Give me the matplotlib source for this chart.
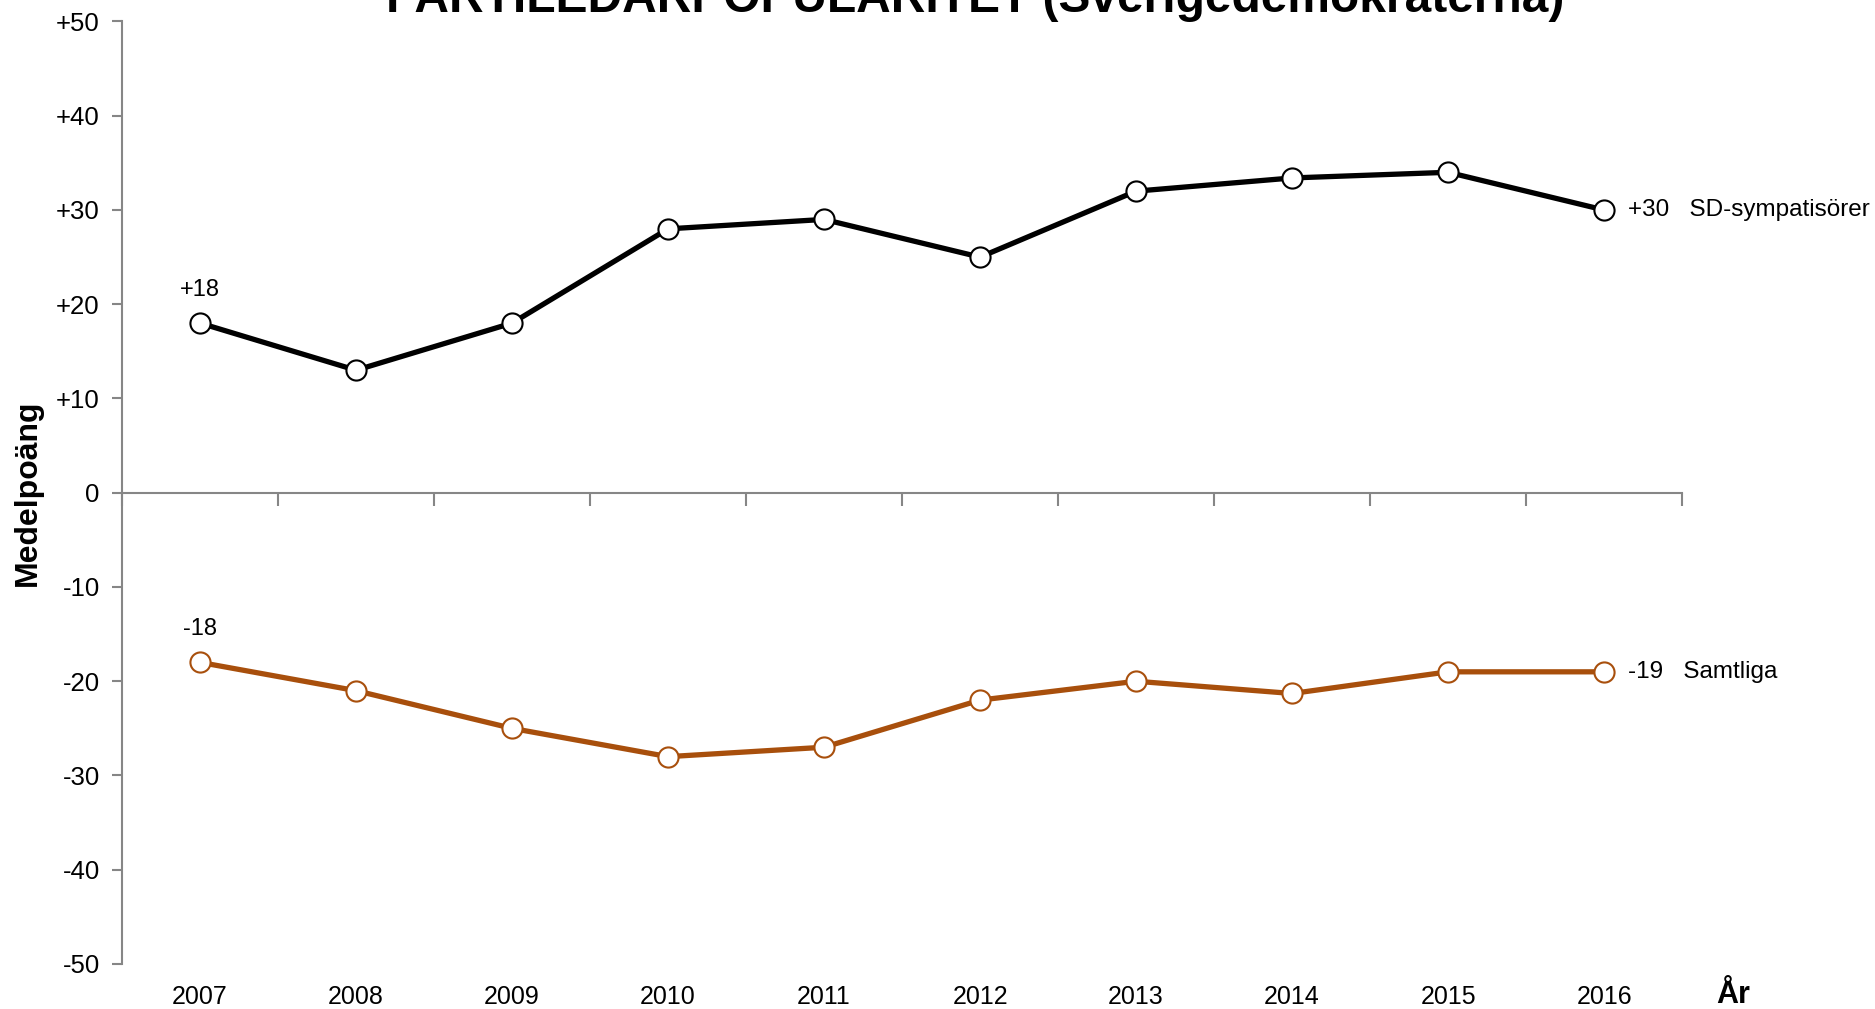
import matplotlib.pyplot as plt
import matplotlib.transforms as mtransforms
import numpy as np

plt.rcParams["font.family"] = ["Liberation Sans", "DejaVu Sans"]

years = ["2007", "2008", "2009", "2010", "2011", "2012", "2013", "2014", "2015", "2016"]
sd_symp = [18, 13, 18, 28, 29, 25, 32, 33.4, 34, 30]
samtliga = [-18, -21, -25, -28, -27, -22, -20, -21.3, -19, -19]
ytick_vals = [50, 40, 30, 20, 10, 0, -10, -20, -30, -40, -50]
ytick_labels = ["+50", "+40", "+30", "+20", "+10", "0", "-10", "-20", "-30", "-40", "-50"]

black = "#000000"
brown = "#A84F0C"
grey = "#868686"

fig = plt.figure(figsize=(18.75, 10.09), dpi=100)
ax = fig.add_axes([0.0651, 0.0446, 0.8320, 0.9341])

x = np.arange(len(years))
ax.plot(x, sd_symp, color=black, lw=3.8, marker="o", ms=14.5, mfc="white", mec=black, mew=1.5, zorder=3)
ax.plot(x, samtliga, color=brown, lw=3.8, marker="o", ms=14.5, mfc="white", mec=brown, mew=1.5, zorder=3)

ax.set_xlim(-0.5, len(years) - 0.5)
ax.set_ylim(-50, 50)

# spines
for s in ["top", "right"]:
    ax.spines[s].set_visible(False)
ax.spines["bottom"].set_position(("data", 0))
ax.spines["bottom"].set_color(grey)
ax.spines["bottom"].set_linewidth(1.5)
ax.spines["left"].set_color(grey)
ax.spines["left"].set_linewidth(1.5)

ax.set_yticks(ytick_vals)
ax.set_yticklabels(ytick_labels, fontsize=18.5)
ax.tick_params(axis="y", direction="out", length=7, width=1.5, color=grey, pad=9)

# ticks on zero line at category boundaries, year labels at the bottom
ax.set_xticks(np.arange(len(years) + 1) - 0.5)
ax.set_xticklabels([])
ax.tick_params(axis="x", direction="out", length=9, width=1.5, color=grey)

sec = ax.secondary_xaxis("bottom")
sec.set_xticks(x)
sec.set_xticklabels(years, fontsize=18)
sec.tick_params(length=0, pad=15)
sec.spines["bottom"].set_visible(False)

trans = mtransforms.blended_transform_factory(ax.transData, ax.transAxes)
ax.text(9.83, 0, "År", fontsize=22, fontweight="bold", ha="center", va="center",
        transform=trans + mtransforms.ScaledTranslation(0, -0.31, fig.dpi_scale_trans))

ax.set_ylabel("Medelpoäng", fontsize=23, fontweight="bold")
ax.yaxis.set_label_coords(-0.051, 0.5)

# point labels
ax.annotate("+18", (x[0], sd_symp[0]), xytext=(0, 24), textcoords="offset points",
            ha="center", va="center", fontsize=17)
ax.annotate("-18", (x[0], samtliga[0]), xytext=(0, 24), textcoords="offset points",
            ha="center", va="center", fontsize=17)
ax.annotate("+30   SD-sympatisörer", (x[-1], sd_symp[-1]), xytext=(17, 0), textcoords="offset points",
            ha="left", va="center", fontsize=17.5, annotation_clip=False)
ax.annotate("-19   Samtliga", (x[-1], samtliga[-1]), xytext=(17, 0), textcoords="offset points",
            ha="left", va="center", fontsize=17.5, annotation_clip=False)

fig.text(0.52, 1 - 12 / 1009, "PARTILEDARPOPULARITET (Sverigedemokraterna)", fontsize=34.5,
         fontweight="bold", ha="center", va="baseline")

fig.savefig("out.png", dpi=100)
